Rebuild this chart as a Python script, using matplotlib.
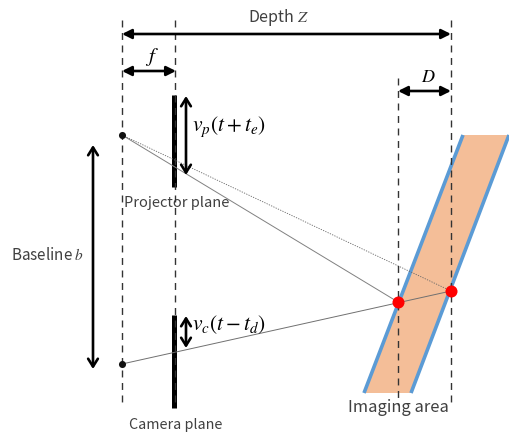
import matplotlib
matplotlib.use('Agg')
import matplotlib.pyplot as plt
from matplotlib.patches import Polygon

plt.rcParams['font.family'] = ['Noto Sans CJK JP', 'DejaVu Sans']
plt.rcParams['mathtext.fontset'] = 'stix'

# everything is in image pixels of the reference
dashed_x = [122, 175.5, 398, 451]
dashed_top = [20, 20, 78, 20]
dashed_bottom = [405, 405, 405, 405]

plane_x = [174, 174]
plane_top = [95, 315]
plane_bottom = [187, 408]

# (x0, y0, x1, y1)
flat_arrows = [(122, 34, 451, 34), (122, 71, 176, 71), (398, 91, 451, 91)]
open_arrows = [(186, 96, 186, 175), (186, 316, 186, 348), (93, 145, 93, 369)]

band_x = [463, 509, 411, 364]
band_y = [135, 135, 393, 393]

centers = [(122, 135), (122, 364)]
hits = [(398, 302), (451, 291)]

fig = plt.figure(figsize=(5.09, 4.34), dpi=100)
ax = fig.add_axes([0, 0, 1, 1])
ax.set_xlim(0, 509)
ax.set_ylim(434, 0)
ax.axis('off')

ax.add_patch(Polygon(list(zip(band_x, band_y)), closed=True, facecolor='#F4BE98',
                     edgecolor='none', zorder=1))
ax.plot(band_x[:1] + band_x[3:], band_y[:1] + band_y[3:], color='#5B9BD5', lw=2.6,
        solid_capstyle='butt', zorder=2)
ax.plot(band_x[1:3], band_y[1:3], color='#5B9BD5', lw=2.6, solid_capstyle='butt', zorder=2)

for x, y0, y1 in zip(plane_x, plane_top, plane_bottom):
    ax.plot([x, x], [y0, y1], color='black', lw=3.6, solid_capstyle='butt', zorder=3)

for x, y0, y1 in zip(dashed_x, dashed_top, dashed_bottom):
    ax.plot([x, x], [y0, y1], color='#333333', lw=1.0, dashes=(5, 4), zorder=4)

# rays
ax.plot([centers[0][0], hits[0][0]], [centers[0][1], hits[0][1]], color='#808080', lw=0.7, zorder=3)
ax.plot([centers[0][0], hits[1][0]], [centers[0][1], hits[1][1]], color='#666666', lw=0.6,
        ls=(0, (1.5, 1.5)), zorder=3)
ax.plot([centers[1][0], hits[1][0]], [centers[1][1], hits[1][1]], color='#707070', lw=0.7, zorder=3)

for x0, y0, x1, y1 in flat_arrows:
    ax.annotate('', xy=(x1, y1), xytext=(x0, y0),
                arrowprops=dict(arrowstyle='<|-|>,head_length=0.4,head_width=0.2', color='black',
                                lw=1.9, shrinkA=0, shrinkB=0, mutation_scale=14),
                zorder=5)
for x0, y0, x1, y1 in open_arrows:
    ax.annotate('', xy=(x1, y1), xytext=(x0, y0),
                arrowprops=dict(arrowstyle='<->,head_length=0.4,head_width=0.25', color='black',
                                lw=1.9, shrinkA=0, shrinkB=0, mutation_scale=14),
                zorder=5)

ax.scatter([p[0] for p in centers], [p[1] for p in centers], s=26, color='#111111', zorder=6,
           linewidths=0)
ax.scatter([p[0] for p in hits], [p[1] for p in hits], s=75, color='#FF0000', zorder=6,
           linewidths=0)

txt = '#404040'
ax.text(248, 18, r'Depth $Z$', fontsize=11.5, color=txt, ha='left', va='center')
ax.text(152, 57, r'$f$', fontsize=15, color='black', ha='center', va='center')
ax.text(428, 77, r'$D$', fontsize=13, color='black', ha='center', va='center')
ax.text(192, 127, r'$v_p(t + t_e)$', fontsize=15.5, color='black', ha='left', va='center')
ax.text(192, 325, r'$v_c(t - t_d)$', fontsize=15.5, color='black', ha='left', va='center')
ax.text(124, 203, 'Projector plane', fontsize=10.5, color=txt, ha='left', va='center')
ax.text(129, 425, 'Camera plane', fontsize=10.3, color=txt, ha='left', va='center')
ax.text(11, 256, r'Baseline $b$', fontsize=11, color=txt, ha='left', va='center')
ax.text(348, 407, 'Imaging area', fontsize=11.9, color=txt, ha='left', va='center')

fig.savefig('out.png', dpi=100)
plt.close()
